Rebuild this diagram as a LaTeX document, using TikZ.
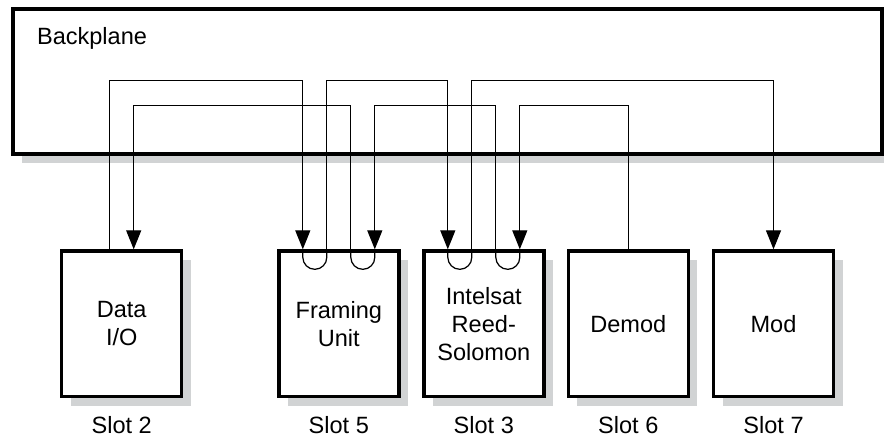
\documentclass[tikz,border=0pt]{standalone}
\usepackage{fontspec}
\setmainfont{Liberation Sans}
\usepackage{xcolor}
\usepackage{tikz}
\usetikzlibrary{calc,positioning,arrows.meta,shadows}
\definecolor{shadowgray}{RGB}{209,211,212}

\begin{document}
\begin{tikzpicture}[ % GLOBAL CFG
    x=0.02cm, y=0.02cm,
    font=\fontsize{13.4}{16}\selectfont,
    >={Triangle[length=0.38cm, width=0.3cm]},
    % Styles
    bplane/.style={% For the backplane
        rectangle,
        draw,
        fill=white,
        line width=0.08cm,
        minimum width=17.38cm,
        minimum height=2.89cm,
        drop shadow={shadow xshift=0.18cm, shadow yshift=-0.18cm, fill=shadowgray, opacity=1},
        },
    slot/.style={% For the plug-in cards
        rectangle,
        draw,
        fill=white,
        line width=0.07cm,
        minimum width=2.4cm,
        minimum height=2.91cm,
        inner sep=0pt,
        align=center,
        drop shadow={shadow xshift=0.18cm, shadow yshift=-0.18cm, fill=shadowgray, opacity=1},
        },
    slotlbl/.style={% Slot numbers under the cards
        anchor=base,
        inner sep=0pt,
        },
    wire/.style={% Backplane traces
        line width=0.7pt,
        },
    ]

    \useasboundingbox (0,0) rectangle (884,440);

    % backplane
    \node [bplane] (bp) at (447.5, 358.3) {};
    \node [anchor=base west, inner sep=0pt] (bplbl) at (36.7, 395) {Backplane};

    % cards
    \node [slot] (dataio) at (121.7, 116.2) {Data\\I/O};
    \node [slot] (framing) at (338.8, 116.2) {Framing\\Unit};
    \node [slot] (intelsat) at (483.8, 116.2) {Intelsat\\Reed-\\Solomon};
    \node [slot] (demod) at (628.3, 116.2) {Demod};
    \node [slot] (mod) at (773.5, 116.2) {Mod};

    \node [slotlbl] (s2) at ($(dataio.south)+(0,-35)$) {Slot 2};
    \node [slotlbl] (s5) at ($(framing.south)+(0,-35)$) {Slot 5};
    \node [slotlbl] (s3) at ($(intelsat.south)+(0,-35)$) {Slot 3};
    \node [slotlbl] (s6) at ($(demod.south)+(0,-35)$) {Slot 6};
    \node [slotlbl] (s7) at ($(mod.south)+(0,-35)$) {Slot 7};

    % connector pins
    \coordinate (dio1) at ($(dataio.north)+(-12,0)$);
    \coordinate (dio2) at ($(dataio.north)+(12,0)$);
    \coordinate (fu1) at ($(framing.north)+(-36,0)$);
    \coordinate (fu2) at ($(framing.north)+(-12,0)$);
    \coordinate (fu3) at ($(framing.north)+(12,0)$);
    \coordinate (fu4) at ($(framing.north)+(36,0)$);
    \coordinate (rs1) at ($(intelsat.north)+(-36,0)$);
    \coordinate (rs2) at ($(intelsat.north)+(-12,0)$);
    \coordinate (rs3) at ($(intelsat.north)+(12,0)$);
    \coordinate (rs4) at ($(intelsat.north)+(36,0)$);
    \coordinate (dm1) at (demod.north);
    \coordinate (md1) at (mod.north);

    % trace levels
    \coordinate (hi) at (0, 359.3);
    \coordinate (lo) at (0, 334.3);

    % traces
    \draw [wire, ->] (dio1) -- (dio1 |- hi) -| (fu1);
    \draw [wire, ->] (fu3) -- (fu3 |- lo) -| (dio2);
    \draw [wire, ->] (fu2) -- (fu2 |- hi) -| (rs1);
    \draw [wire, ->] (rs3) -- (rs3 |- lo) -| (fu4);
    \draw [wire, ->] (rs2) -- (rs2 |- hi) -| (md1);
    \draw [wire, ->] (dm1) -- (dm1 |- lo) -| (rs4);

    % loop-through on the cards
    \draw [wire] (fu1) -- ++(0,-8) arc[start angle=180, end angle=360, radius=12] -- (fu2);
    \draw [wire] (fu3) -- ++(0,-8) arc[start angle=180, end angle=360, radius=12] -- (fu4);
    \draw [wire] (rs1) -- ++(0,-8) arc[start angle=180, end angle=360, radius=12] -- (rs2);
    \draw [wire] (rs3) -- ++(0,-8) arc[start angle=180, end angle=360, radius=12] -- (rs4);

\end{tikzpicture}
\end{document}
